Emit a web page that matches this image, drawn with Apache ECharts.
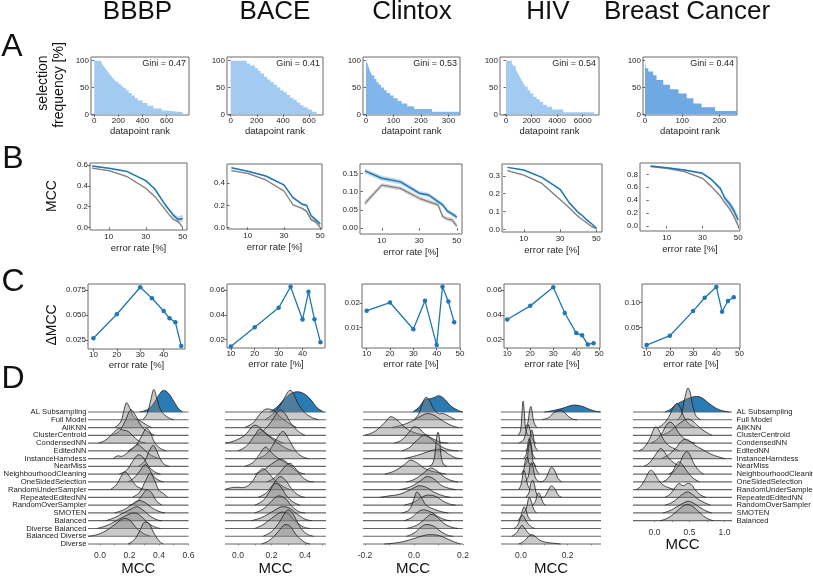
<!DOCTYPE html>
<html><head><meta charset="utf-8">
<script src="https://cdn.jsdelivr.net/npm/echarts@6/dist/echarts.min.js"></script>
<style>html,body{margin:0;padding:0;background:#fff}#c{width:813px;height:576px}</style>
</head><body><div id="c"></div>
<script>
const FONT = "'Liberation Sans', Arial, Helvetica, sans-serif";
const datasets = ['BBBP', 'BACE', 'Clintox', 'HIV', 'Breast Cancer'];

// ---------- Row A: selection frequency vs datapoint rank (step breakpoints [rank, %]) ----------
const histBBBP = [[0,100],[55,97],[68,93],[80,89],[95,85],[108,81],[120,77],[135,73],[150,69],[165,65],[180,61],[200,57],[220,53],[240,49],[262,45],[285,40],[310,35],[335,30],[360,26],[400,21],[440,16],[490,11],[560,7],[600,4],[733,4]];
const histBACE = [[0,100],[123,95],[148,91],[186,86],[210,81],[230,76],[255,70],[280,65],[305,60],[330,55],[355,50],[380,45],[405,41],[430,36],[455,31],[480,27],[506,22],[532,17],[557,13],[590,9],[621,5],[659,5]];
const histClintox = [[0,100],[5,95],[10,88],[15,80],[22,73],[30,66],[38,60],[46,55],[55,50],[65,45],[75,40],[88,35],[100,30],[115,25],[130,20],[150,15],[175,10],[240,5],[342,5]];
const histHIV = [[0,100],[450,95],[600,90],[760,84],[900,78],[1050,71],[1200,65],[1350,58],[1500,52],[1700,45],[1900,39],[2150,33],[2400,28],[2650,23],[2900,18],[3200,14],[3600,9],[4490,4],[6910,4]];
const histBreast = [[0,100],[2,86],[9,80],[22,73],[31,64],[49,55],[67,47],[90,39],[112,30],[130,20],[152,13],[188,6],[248,6]];
const giniValues = ['0.47', '0.41', '0.53', '0.54', '0.44'];
const rankTicksA = [[0,200,400,600],[0,200,400,600],[0,100,200,300],[0,2000,4000,6000],[0,100,200]];
const freqTicksA = [0, 50, 100];

// ---------- Row B: MCC vs error rate ----------
const errB = [1, 10, 20, 30, 35, 40, 42.5, 45, 47.5, 50];
const mccAL_BBBP = [0.59,0.57,0.537,0.45,0.367,0.23,0.172,0.115,0.075,0.085];
const mccFull_BBBP = [0.57,0.546,0.488,0.376,0.295,0.183,0.125,0.075,0.055,0.0];
const sdAL_BBBP = [0.006,0.006,0.007,0.008,0.01,0.012,0.015,0.02,0.028,0.035];
const sdFull_BBBP = [0.005,0.005,0.005,0.006,0.007,0.008,0.009,0.01,0.012,0.012];
const mccAL_BACE = [0.54,0.51,0.466,0.385,0.27,0.21,0.20,0.105,0.07,0.03];
const mccFull_BACE = [0.515,0.49,0.43,0.33,0.205,0.172,0.145,0.07,0.05,0.0];
const sdAL_BACE = [0.006,0.006,0.007,0.008,0.01,0.01,0.012,0.014,0.015,0.018];
const sdFull_BACE = [0.005,0.005,0.006,0.007,0.01,0.01,0.012,0.012,0.014,0.015];
const mccAL_Clintox = [0.157,0.137,0.127,0.096,0.091,0.073,0.064,0.047,0.039,0.030];
const mccFull_Clintox = [0.068,0.118,0.109,0.082,0.073,0.064,0.032,0.025,0.023,0.006];
const sdAL_Clintox = [0.007,0.007,0.007,0.006,0.006,0.006,0.006,0.006,0.006,0.007];
const sdFull_Clintox = [0.008,0.006,0.006,0.006,0.006,0.006,0.006,0.006,0.007,0.008];
const mccAL_HIV = [0.348,0.333,0.292,0.225,0.15,0.095,0.075,0.05,0.03,0.006];
const mccFull_HIV = [0.33,0.305,0.258,0.168,0.121,0.072,0.052,0.034,0.015,0.004];
const sdAL_HIV = [0.003,0.003,0.003,0.004,0.004,0.004,0.004,0.004,0.004,0.004];
const sdFull_HIV = [0.003,0.003,0.003,0.003,0.003,0.003,0.003,0.003,0.003,0.003];
const mccAL_Breast = [0.929,0.90,0.867,0.816,0.72,0.58,0.43,0.35,0.24,0.093];
const mccFull_Breast = [0.918,0.893,0.84,0.738,0.61,0.464,0.36,0.274,0.155,0.0];
const sdAL_Breast = [0.01,0.01,0.012,0.015,0.02,0.03,0.04,0.05,0.06,0.07];
const sdFull_Breast = [0.008,0.008,0.01,0.012,0.015,0.02,0.02,0.025,0.025,0.03];
const mccTicksB = [[0,0.2,0.4,0.6],[0,0.2,0.4],[0,0.05,0.1,0.15],[0,0.1,0.2,0.3],[0,0.2,0.4,0.6,0.8]];
const errTicksB = [10, 30, 50];

// ---------- Row C: delta MCC vs error rate ----------
const errC = [10, 20, 30, 35, 40, 42.5, 45, 47.5];
const dMCC_BBBP = [0.0267,0.0507,0.0777,0.0667,0.054,0.0467,0.0427,0.019];
const dMCC_BACE = [0.0146,0.030,0.0456,0.0626,0.0362,0.0585,0.0364,0.018];
const dMCC_Clintox = [0.0169,0.0203,0.0092,0.021,0.0026,0.0269,0.0207,0.0121];
const dMCC_HIV = [0.0362,0.0472,0.0621,0.0415,0.0253,0.0235,0.0162,0.0172];
const dMCC_Breast = [0.014,0.033,0.083,0.110,0.132,0.0816,0.1034,0.111];
const dTicksC = [[0.025,0.05,0.075],[0.02,0.04,0.06],[0.01,0.02],[0.02,0.04,0.06],[0.05,0.1]];
const errTicksC = [10, 20, 30, 40, 50];

// ---------- Row D: MCC distributions (ridgeline; knots [mcc, density in row units, ...]) ----------
const methodNames = ['AL Subsampling','Full Model','AllKNN','ClusterCentroid','CondensedNN','EditedNN','InstanceHarndess','NearMiss','NeighbourhoodCleaning','OneSidedSelection','RandomUnderSampler','RepeatedEditedNN','RandomOverSampler','SMOTEN','Balanced','Diverse Balanced','Balanced Diverse','Diverse'];
const ridgesBBBP = [
[0.27,0, 0.32,0.3, 0.36,1.0, 0.40,2.2, 0.43,2.8, 0.46,2.5, 0.50,1.4, 0.53,0.5, 0.56,0],
[0.29,0, 0.32,0.8, 0.345,2.6, 0.365,3.9, 0.385,2.8, 0.41,1.3, 0.44,0.6, 0.47,0.2, 0.50,0],
[0.10,0, 0.14,0.7, 0.165,2.4, 0.18,3.2, 0.20,2.6, 0.23,1.3, 0.27,0.9, 0.31,0.4, 0.35,0],
[0.08,0, 0.13,0.5, 0.17,1.8, 0.21,3.3, 0.24,2.6, 0.28,1.2, 0.32,0.5, 0.37,0],
[-0.01,0, 0.04,0.4, 0.09,1.3, 0.13,1.9, 0.15,1.7, 0.19,1.5, 0.23,0.8, 0.27,0.2, 0.31,0],
[0.19,0, 0.24,0.6, 0.28,1.8, 0.315,2.9, 0.34,2.4, 0.37,1.1, 0.41,0.3, 0.45,0],
[0.09,0, 0.12,0.35, 0.15,0.3, 0.19,0.8, 0.23,1.5, 0.255,1.8, 0.28,1.5, 0.32,0.8, 0.36,0.3, 0.40,0],
[0.26,0, 0.30,0.6, 0.335,2.0, 0.36,2.7, 0.38,2.2, 0.41,0.9, 0.44,0.2, 0.47,0],
[0.13,0, 0.18,0.5, 0.22,1.6, 0.26,2.5, 0.29,2.2, 0.33,1.0, 0.37,0.3, 0.41,0],
[0.19,0, 0.23,0.5, 0.27,1.4, 0.305,2.2, 0.33,1.8, 0.36,0.8, 0.40,0.2, 0.43,0],
[0.07,0, 0.11,0.6, 0.15,1.9, 0.17,2.3, 0.20,1.7, 0.24,0.6, 0.28,0.15, 0.32,0],
[0.22,0, 0.27,0.7, 0.31,2.2, 0.34,3.1, 0.37,2.2, 0.40,0.9, 0.43,0.5, 0.46,0],
[0.20,0, 0.25,0.4, 0.29,1.4, 0.32,2.0, 0.35,1.6, 0.38,0.6, 0.42,0],
[0.10,0, 0.16,0.4, 0.21,1.0, 0.26,1.6, 0.30,1.4, 0.35,0.7, 0.40,0.2, 0.44,0],
[0.04,0, 0.10,0.4, 0.16,1.0, 0.21,1.5, 0.25,1.8, 0.29,1.4, 0.34,0.6, 0.39,0.1, 0.42,0],
[-0.02,0, 0.05,0.4, 0.11,1.0, 0.17,1.6, 0.23,2.0, 0.27,1.7, 0.32,0.8, 0.37,0.2, 0.41,0],
[-0.08,0, -0.02,0.2, 0.04,0.7, 0.10,1.5, 0.16,2.3, 0.20,2.1, 0.25,1.0, 0.30,0.3, 0.34,0],
[0.19,0, 0.23,0.5, 0.27,1.7, 0.30,2.8, 0.33,2.7, 0.36,1.6, 0.40,0.4, 0.43,0]
];
const ridgesBACE = [
[0.19,0, 0.23,0.6, 0.27,1.5, 0.31,2.3, 0.35,2.6, 0.39,2.4, 0.43,1.7, 0.47,0.6, 0.51,0],
[0.16,0, 0.20,0.6, 0.25,1.8, 0.29,3.3, 0.31,3.8, 0.33,3.4, 0.36,2.0, 0.40,0.9, 0.44,0.3, 0.48,0],
[0.04,0, 0.09,0.6, 0.13,1.7, 0.17,2.4, 0.21,2.2, 0.25,1.4, 0.30,0.6, 0.35,0],
[0.10,0, 0.15,0.6, 0.20,1.8, 0.25,3.3, 0.28,2.8, 0.32,1.4, 0.36,0.5, 0.40,0],
[-0.075,0, -0.02,0.3, 0.04,1.0, 0.08,2.0, 0.10,2.3, 0.13,2.0, 0.17,1.2, 0.22,0.5, 0.27,0],
[0.0,0, 0.05,0.6, 0.10,2.0, 0.13,2.8, 0.16,2.3, 0.20,1.6, 0.25,0.8, 0.30,0.2, 0.33,0],
[0.12,0, 0.17,0.6, 0.21,1.8, 0.25,3.2, 0.27,3.5, 0.30,2.6, 0.34,1.1, 0.38,0.3, 0.42,0],
[0.04,0, 0.09,0.5, 0.13,1.6, 0.165,2.5, 0.19,2.0, 0.23,1.2, 0.28,0.5, 0.33,0],
[0.10,0, 0.15,0.5, 0.20,1.3, 0.25,1.9, 0.28,1.7, 0.32,0.9, 0.36,0.3, 0.40,0],
[0.17,0, 0.21,0.4, 0.25,1.2, 0.29,2.2, 0.31,2.4, 0.34,1.8, 0.38,0.7, 0.42,0.1, 0.45,0],
[-0.08,0, -0.04,0.25, 0.0,0.3, 0.04,0.3, 0.08,0.9, 0.12,2.2, 0.15,2.7, 0.18,2.2, 0.22,1.2, 0.27,0.4, 0.31,0],
[0.12,0, 0.17,0.6, 0.21,1.7, 0.25,2.7, 0.28,2.3, 0.32,1.1, 0.36,0.3, 0.40,0],
[0.10,0, 0.15,0.6, 0.19,1.8, 0.22,2.8, 0.25,2.5, 0.29,1.2, 0.33,0.4, 0.37,0],
[0.10,0, 0.15,0.5, 0.20,1.5, 0.24,2.2, 0.28,1.9, 0.32,0.9, 0.36,0.2, 0.40,0],
[0.08,0, 0.14,0.4, 0.20,1.1, 0.26,1.8, 0.30,1.7, 0.35,0.9, 0.40,0.2, 0.44,0],
[0.10,0, 0.15,0.5, 0.20,1.3, 0.26,2.1, 0.30,1.9, 0.34,1.0, 0.39,0.2, 0.43,0],
[0.15,0, 0.20,0.6, 0.24,1.6, 0.28,3.0, 0.30,3.4, 0.33,2.8, 0.37,1.2, 0.41,0.3, 0.45,0],
[0.14,0, 0.19,0.5, 0.24,1.6, 0.28,2.5, 0.31,2.3, 0.35,1.1, 0.40,0.2, 0.43,0]
];
const ridgesClintox = [
[-0.005,0, 0.02,0.6, 0.045,1.6, 0.065,1.7, 0.085,1.9, 0.10,2.1, 0.12,1.8, 0.15,0.8, 0.18,0.2, 0.20,0],
[0.0,0, 0.02,0.8, 0.04,2.5, 0.05,2.9, 0.065,2.4, 0.08,1.4, 0.10,0.8, 0.12,0.8, 0.14,0.5, 0.17,0],
[-0.09,0, -0.05,0.3, -0.01,0.8, 0.03,1.5, 0.055,1.8, 0.08,1.6, 0.11,1.0, 0.15,0.3, 0.18,0],
[-0.20,0, -0.16,0.5, -0.12,1.6, -0.095,2.4, -0.07,2.0, -0.04,1.1, -0.01,0.5, 0.03,0.1, 0.06,0],
[-0.08,0, -0.05,0.4, -0.02,1.4, 0.0,2.1, 0.02,1.9, 0.05,1.0, 0.08,0.5, 0.11,0.1, 0.14,0],
[-0.05,0, -0.02,0.4, 0.01,1.3, 0.04,2.0, 0.06,1.8, 0.09,1.0, 0.12,0.4, 0.15,0.1, 0.18,0],
[-0.04,0, 0.0,0.3, 0.04,0.7, 0.08,1.1, 0.11,1.2, 0.14,0.6, 0.17,0.1, 0.19,0],
[0.06,0, 0.075,0.3, 0.085,1.5, 0.093,3.8, 0.098,4.4, 0.104,3.6, 0.11,1.5, 0.12,0.3, 0.135,0],
[-0.12,0, -0.08,0.4, -0.04,1.2, -0.015,1.8, 0.01,1.5, 0.04,0.8, 0.07,0.4, 0.10,0.2, 0.13,0],
[-0.03,0, 0.0,0.3, 0.03,0.9, 0.068,1.8, 0.09,1.5, 0.12,0.7, 0.15,0.2, 0.18,0],
[-0.06,0, -0.02,0.3, 0.02,1.0, 0.054,1.7, 0.08,1.4, 0.11,0.6, 0.14,0.2, 0.17,0],
[-0.14,0, -0.10,0.2, -0.06,0.4, -0.02,0.9, 0.02,1.5, 0.05,1.3, 0.08,0.7, 0.12,0.2, 0.15,0],
[-0.04,0, 0.0,0.4, 0.03,1.0, 0.06,1.3, 0.09,1.1, 0.12,0.5, 0.15,0.1, 0.17,0],
[-0.05,0, -0.02,0.4, 0.0,1.8, 0.012,2.7, 0.03,2.0, 0.05,1.0, 0.08,0.5, 0.12,0.1, 0.14,0],
[-0.04,0, -0.01,0.4, 0.02,1.2, 0.04,1.4, 0.07,1.1, 0.10,0.5, 0.13,0.1, 0.15,0],
[-0.03,0, 0.01,0.4, 0.04,1.1, 0.068,1.8, 0.09,1.6, 0.12,0.7, 0.15,0.2, 0.18,0],
[-0.03,0, 0.0,0.4, 0.03,1.2, 0.05,1.5, 0.08,1.3, 0.11,0.6, 0.14,0.1, 0.16,0],
[-0.12,0, -0.06,0.2, -0.01,0.6, 0.03,1.0, 0.06,1.2, 0.10,1.1, 0.14,0.6, 0.17,0.2, 0.19,0]
];
const ridgesHIV = [
[0.10,0, 0.14,0.2, 0.18,0.5, 0.21,0.8, 0.23,0.9, 0.26,0.75, 0.29,0.4, 0.32,0.1, 0.34,0],
[0.09,0, 0.12,0.3, 0.14,0.9, 0.155,1.1, 0.17,1.2, 0.185,1.0, 0.20,0.5, 0.22,0.1, 0.24,0],
[0.015,0, 0.028,0.5, 0.036,2.0, 0.042,2.7, 0.048,2.0, 0.056,0.6, 0.068,0],
[-0.012,0, -0.002,0.6, 0.004,2.8, 0.009,4.4, 0.014,3.0, 0.02,0.8, 0.03,0],
[-0.01,0, 0.01,0.4, 0.022,1.5, 0.03,2.4, 0.038,1.8, 0.046,0.8, 0.056,0.2, 0.065,0],
[0.02,0, 0.032,0.6, 0.04,2.0, 0.046,2.7, 0.052,2.1, 0.06,0.6, 0.072,0],
[0.01,0, 0.022,0.5, 0.03,2.0, 0.036,2.6, 0.042,2.0, 0.05,0.6, 0.062,0],
[0.01,0, 0.024,0.5, 0.032,2.3, 0.038,3.2, 0.044,2.4, 0.052,0.6, 0.064,0],
[0.0,0, 0.012,0.6, 0.02,2.0, 0.028,2.2, 0.036,1.3, 0.046,1.2, 0.055,1.4, 0.065,0.6, 0.078,0],
[0.015,0, 0.03,0.6, 0.04,2.2, 0.046,2.5, 0.054,1.5, 0.064,0.4, 0.08,0.05, 0.10,0.2, 0.115,1.0, 0.13,1.9, 0.145,1.4, 0.16,0.4, 0.175,0],
[-0.01,0, 0.0,0.6, 0.008,2.0, 0.013,2.5, 0.02,1.8, 0.03,0.5, 0.042,0],
[0.02,0, 0.034,0.6, 0.042,1.8, 0.05,2.2, 0.058,1.6, 0.068,0.4, 0.085,0.05, 0.10,0.1, 0.115,0.8, 0.13,1.5, 0.145,1.1, 0.16,0.3, 0.175,0],
[0.05,0, 0.062,0.5, 0.07,1.4, 0.077,1.6, 0.085,1.1, 0.095,0.3, 0.105,0],
[0.01,0, 0.022,0.5, 0.03,1.6, 0.036,2.0, 0.044,1.5, 0.054,0.5, 0.066,0],
[-0.015,0, -0.002,0.5, 0.008,1.5, 0.014,1.8, 0.022,1.3, 0.032,0.4, 0.045,0],
[-0.03,0, -0.015,0.4, -0.003,1.3, 0.006,1.7, 0.016,1.3, 0.03,0.6, 0.045,0.2, 0.06,0],
[-0.04,0, -0.02,0.4, -0.005,1.1, 0.004,1.4, 0.014,1.1, 0.028,0.5, 0.045,0.1, 0.06,0],
[-0.01,0, 0.01,0.3, 0.03,0.9, 0.045,1.2, 0.06,1.0, 0.08,0.5, 0.11,0.2, 0.14,0.1, 0.17,0]
];
const ridgesBreast = [
[0.15,0, 0.22,0.3, 0.30,0.9, 0.40,1.4, 0.50,1.8, 0.60,2.0, 0.68,1.8, 0.78,1.1, 0.90,0.4, 1.00,0.1, 1.07,0],
[0.33,0, 0.38,0.6, 0.42,2.2, 0.46,3.8, 0.48,4.1, 0.51,3.5, 0.55,1.6, 0.60,0.4, 0.66,0],
[0.05,0, 0.12,0.4, 0.20,1.3, 0.27,2.6, 0.32,3.1, 0.37,2.5, 0.43,1.2, 0.50,0.4, 0.58,0],
[0.10,0, 0.20,0.4, 0.30,1.1, 0.40,1.8, 0.47,2.1, 0.55,1.8, 0.62,1.2, 0.72,0.5, 0.82,0],
[-0.05,0, 0.03,0.4, 0.10,1.2, 0.17,2.3, 0.22,2.7, 0.28,2.3, 0.34,1.4, 0.42,0.6, 0.50,0.2, 0.58,0],
[-0.22,0, -0.15,0.4, -0.07,1.5, -0.01,2.8, 0.02,3.1, 0.06,2.7, 0.12,1.6, 0.20,0.7, 0.28,0.3, 0.36,0],
[0.10,0, 0.20,0.5, 0.30,1.3, 0.38,2.2, 0.44,2.5, 0.50,2.3, 0.58,1.7, 0.68,1.2, 0.80,0.6, 0.92,0.2, 1.00,0],
[-0.15,0, -0.08,0.4, 0.0,1.3, 0.06,2.1, 0.09,2.3, 0.13,2.0, 0.19,1.2, 0.27,0.5, 0.35,0.1, 0.42,0],
[0.20,0, 0.28,0.4, 0.35,1.2, 0.41,2.4, 0.46,2.9, 0.50,2.6, 0.56,1.4, 0.63,0.5, 0.70,0],
[0.12,0, 0.20,0.5, 0.27,1.5, 0.32,2.4, 0.35,2.6, 0.40,2.2, 0.47,1.3, 0.55,0.5, 0.64,0],
[-0.26,0, -0.20,0.4, -0.13,1.4, -0.08,2.3, -0.05,2.5, -0.01,2.2, 0.06,1.2, 0.14,0.5, 0.22,0.2, 0.30,0],
[0.15,0, 0.22,0.4, 0.29,1.2, 0.35,1.8, 0.41,1.5, 0.47,1.8, 0.52,1.7, 0.58,1.0, 0.66,0.3, 0.74,0],
[0.15,0, 0.24,0.3, 0.32,0.8, 0.40,1.4, 0.47,1.7, 0.54,1.4, 0.62,0.8, 0.72,0.3, 0.80,0],
[0.12,0, 0.22,0.3, 0.32,0.8, 0.42,1.3, 0.48,1.5, 0.55,1.3, 0.65,0.7, 0.75,0.2, 0.82,0],
[0.08,0, 0.18,0.3, 0.28,0.9, 0.38,1.7, 0.47,2.1, 0.55,1.8, 0.65,1.0, 0.75,0.3, 0.84,0]
];
const mccTicksD = [[0,0.1,0.2,0.3,0.4,0.5,0.6],[0,0.1,0.2,0.3,0.4,0.5],[-0.2,-0.1,0,0.1,0.2],[0,0.1,0.2,0.3],[0,0.25,0.5,0.75,1]];
const mccLabelsD = [[0,0.2,0.4,0.6],[0,0.2,0.4],[-0.2,0,0.2],[0,0.2],[0,0.5,1]];

// ---------- assemble ----------
const hists = [histBBBP, histBACE, histClintox, histHIV, histBreast];
const mccAL = [mccAL_BBBP, mccAL_BACE, mccAL_Clintox, mccAL_HIV, mccAL_Breast];
const mccFull = [mccFull_BBBP, mccFull_BACE, mccFull_Clintox, mccFull_HIV, mccFull_Breast];
const sdAL = [sdAL_BBBP, sdAL_BACE, sdAL_Clintox, sdAL_HIV, sdAL_Breast];
const sdFull = [sdFull_BBBP, sdFull_BACE, sdFull_Clintox, sdFull_HIV, sdFull_Breast];
const dMCC = [dMCC_BBBP, dMCC_BACE, dMCC_Clintox, dMCC_HIV, dMCC_Breast];
const ridges = [ridgesBBBP, ridgesBACE, ridgesClintox, ridgesHIV, ridgesBreast];

const layA = [
 {left:91,top:57,width:98,height:58,xmin:-27,xmax:785,color:'#a3cbf1'},
 {left:227,top:57,width:96,height:58,xmin:-28,xmax:707,color:'#a3cbf1'},
 {left:363,top:57,width:97,height:58,xmin:-11,xmax:342,color:'#80b6ea'},
 {left:500,top:57,width:99,height:58,xmin:-470,xmax:7277,color:'#a3cbf1'},
 {left:643,top:57,width:94,height:58,xmin:-5.4,xmax:247,color:'#6fa9e4'}];
const layB = [
 {left:90,top:163,width:97,height:67,xmin:-0.16,xmax:52.3,ymin:-0.026,ymax:0.62,dec:1},
 {left:227,top:164,width:95,height:65,xmin:-1.4,xmax:51,ymin:-0.015,ymax:0.575,dec:1},
 {left:360,top:164,width:102,height:70,xmin:-1.6,xmax:52.8,ymin:-0.016,ymax:0.176,dec:2},
 {left:502,top:164,width:100,height:68,xmin:-2,xmax:53.1,ymin:-0.015,ymax:0.367,dec:1},
 {left:640,top:163,width:100,height:68,xmin:-4.9,xmax:51,ymin:-0.077,ymax:0.975,dec:1}];
const layC = [
 {left:88,top:284,width:97,height:65,xmin:7.7,xmax:49.1,ymin:0.016,ymax:0.081,dec:3},
 {left:227,top:284,width:98,height:64,xmin:8.4,xmax:49.4,ymin:0.0133,ymax:0.0648,dec:2},
 {left:362,top:284,width:98,height:64,xmin:8,xmax:50,ymin:0.0014,ymax:0.028,dec:2},
 {left:504,top:284,width:96,height:64,xmin:8.6,xmax:50.3,ymin:0.0133,ymax:0.0648,dec:2},
 {left:642,top:284,width:98,height:64,xmin:8,xmax:50.2,ymin:0.008,ymax:0.138,dec:2}];
const layD = [
 {left:88,width:100.5,xmin:-0.081,xmax:0.6},
 {left:225,width:101,xmin:-0.0776,xmax:0.525},
 {left:363,width:100,xmin:-0.208,xmax:0.2},
 {left:501,width:100,xmin:-0.0858,xmax:0.343},
 {left:633,width:99,xmin:-0.307,xmax:1.107}];
const ROWPX = 7.765, DTOP = 380;

const TXT = '#262626';
const grids = [], xAxes = [], yAxes = [], series = [], graphics = [];
function pushY(ax) { yAxes.push(ax); return yAxes.length - 1; }

function mkGrid(o) {
  return Object.assign({containLabel:false, outerBoundsMode:'none'}, o);
}
function tickAxis(o) {
  return {
    type:'value', gridIndex:o.g, min:o.min, max:o.max, position:o.position,
    splitLine:{show:false}, axisLine:{show:false},
    axisTick:{show:true, length:2.5, customValues:o.ticks, lineStyle:{color:'#444', width:0.8}},
    axisLabel:{customValues:o.ticks, fontSize:8, color:TXT, margin:o.margin == null ? 2 : o.margin,
      formatter:o.fmt || (v => String(v)), showMinLabel:true, showMaxLabel:true},
    name:o.name, nameLocation:'middle', nameGap:o.nameGap, nameTextStyle:{fontSize:9.5, color:TXT}
  };
}
function fixed(d) { return v => Number(v).toFixed(d); }

for (let p = 0; p < 5; p++) {
  // ---- A
  const a = layA[p], gA = grids.length;
  grids.push(mkGrid({left:a.left, top:a.top, width:a.width, height:a.height, show:true, borderColor:'#6a6a6a', borderWidth:1}));
  xAxes.push(tickAxis({g:gA, min:a.xmin, max:a.xmax, ticks:rankTicksA[p], name:'datapoint rank', nameGap:11, margin:1.5}));
  const yA = pushY(tickAxis({g:gA, min:-1.3, max:107, ticks:freqTicksA, margin:2}));
  series.push({type:'line', xAxisIndex:gA, yAxisIndex:yA, data:hists[p], step:'end', symbol:'none', silent:true,
    lineStyle:{width:0, opacity:0}, areaStyle:{color:a.color, opacity:1}});
  graphics.push({type:'text', x:a.left + a.width - 3, y:a.top + 6.5, silent:true,
    style:{text:'Gini = ' + giniValues[p], fontSize:9, fontFamily:FONT, fill:TXT, align:'right', textAlign:'right', verticalAlign:'middle', textVerticalAlign:'middle'}});

  // ---- B
  const b = layB[p], gB = grids.length;
  grids.push(mkGrid({left:b.left, top:b.top, width:b.width, height:b.height, show:true, borderColor:'#6a6a6a', borderWidth:1}));
  xAxes.push(tickAxis({g:gB, min:b.xmin, max:b.xmax, ticks:errTicksB, name:'error rate [%]', nameGap:13.5, margin:3}));
  const yB = pushY(tickAxis({g:gB, min:b.ymin, max:b.ymax, ticks:mccTicksB[p], fmt:fixed(b.dec), margin:2}));
  const bandSeries = (vals, sd, color) => ({
    type:'custom', xAxisIndex:gB, yAxisIndex:yB, data:[[errB[0], vals[0]]], silent:true, clip:true,
    renderItem:(params, api) => {
      const pts = [];
      for (let i = 0; i < errB.length; i++) pts.push(api.coord([errB[i], vals[i] + sd[i]]));
      for (let i = errB.length - 1; i >= 0; i--) pts.push(api.coord([errB[i], vals[i] - sd[i]]));
      return {type:'polygon', shape:{points:pts}, style:{fill:color, stroke:null}};
    }
  });
  series.push(bandSeries(mccFull[p], sdFull[p], 'rgba(127,127,127,0.28)'));
  series.push(bandSeries(mccAL[p], sdAL[p], 'rgba(31,119,180,0.28)'));
  series.push({type:'line', xAxisIndex:gB, yAxisIndex:yB, data:errB.map((x,i)=>[x, mccFull[p][i]]), symbol:'none', silent:true,
    lineStyle:{color:'#7f7f7f', width:1.3}});
  series.push({type:'line', xAxisIndex:gB, yAxisIndex:yB, data:errB.map((x,i)=>[x, mccAL[p][i]]), symbol:'none', silent:true,
    lineStyle:{color:'#1f77b4', width:1.5}});

  // ---- C
  const c = layC[p], gC = grids.length;
  grids.push(mkGrid({left:c.left, top:c.top, width:c.width, height:c.height, show:true, borderColor:'#6a6a6a', borderWidth:1}));
  xAxes.push(tickAxis({g:gC, min:c.xmin, max:c.xmax, ticks:errTicksC, name:'error rate [%]', nameGap:11.5, margin:1.5}));
  const yC = pushY(tickAxis({g:gC, min:c.ymin, max:c.ymax, ticks:dTicksC[p], fmt:fixed(c.dec), margin:2}));
  series.push({type:'line', xAxisIndex:gC, yAxisIndex:yC, data:errC.map((x,i)=>[x, dMCC[p][i]]), symbol:'circle', symbolSize:4.5, silent:true,
    lineStyle:{color:'#1f77b4', width:1.3}, itemStyle:{color:'#1f77b4'}});

  // ---- D
  const d = layD[p], gD = grids.length, R = ridges[p], n = R.length;
  const bottom = DTOP + 32 + (n - 1) * ROWPX;
  const ymax = (bottom - DTOP) / ROWPX;
  grids.push(mkGrid({left:d.left, top:DTOP, width:d.width, height:bottom - DTOP, show:false}));
  xAxes.push({type:'value', gridIndex:gD, min:d.xmin, max:d.xmax, offset:5,
    splitLine:{show:false}, axisLine:{show:false},
    axisTick:{show:true, length:1.5, customValues:mccTicksD[p], lineStyle:{color:'#9a9a9a', width:1}},
    axisLabel:{customValues:mccLabelsD[p], fontSize:8.5, color:'#333', margin:2, formatter:fixed(1), showMinLabel:true, showMaxLabel:true},
    name:'MCC', nameLocation:'middle', nameGap:10.5, nameTextStyle:{fontSize:15, color:'#111'}});
  const rowVals = R.map((r, i) => i);
  const showNames = (p === 0 || p === 4);
  const rowAxis = (vals) => ({type:'value', gridIndex:gD, min:0, max:ymax, position: p === 4 ? 'right' : 'left', offset:0,
    splitLine:{show:false}, axisLine:{show:false}, axisTick:{show:false},
    axisLabel:{show:showNames, customValues:vals, fontSize:7.7, color:'#222', margin: p === 4 ? 4.5 : 1.5,
      showMinLabel:true, showMaxLabel:true, hideOverlap:false,
      formatter: v => methodNames[n - 1 - Math.round(v)] || ''}});
  // two label axes (alternate rows) so that neighbouring row names never collide
  const yD = pushY(rowAxis(rowVals.filter(v => v % 2 === 0)));
  pushY(rowAxis(rowVals.filter(v => v % 2 === 1)));
  // baselines
  series.push({type:'custom', xAxisIndex:gD, yAxisIndex:yD, silent:true, data:rowVals.map(i => [d.xmin, i]),
    renderItem:(params, api) => {
      const i = params.dataIndex, base = n - 1 - i;
      const p0 = api.coord([d.xmin, base]), p1 = api.coord([d.xmax, base]);
      return {type:'line', shape:{x1:p0[0], y1:p0[1], x2:p1[0], y2:p1[1]}, style:{stroke:'#666', lineWidth:1.2}};
    }});
  // ridges
  series.push({type:'custom', xAxisIndex:gD, yAxisIndex:yD, silent:true, data:rowVals.map(i => [R[i][0], n - 1 - i]),
    renderItem:(params, api) => {
      const i = params.dataIndex, base = n - 1 - i, k = R[i];
      const pts = [];
      for (let j = 0; j < k.length; j += 2) pts.push(api.coord([k[j], base + k[j + 1]]));
      const xs = pts.map(q => q[0]), ys = pts.map(q => q[1]);
      const cons = [[Math.min(...xs), Math.min(...ys)], [Math.max(...xs), Math.max(...ys)]];
      const fill = i === 0 ? 'rgba(31,115,176,0.95)' : 'rgba(128,128,128,0.42)';
      return {type:'group', children:[
        {type:'polygon', shape:{points:pts, smooth:0.4, smoothConstraint:cons}, style:{fill:fill, stroke:null}},
        {type:'polyline', shape:{points:pts, smooth:0.4, smoothConstraint:cons}, style:{fill:null, stroke:'#1e1e1e', lineWidth:0.8}}
      ]};
    }});
}

// ---------- free text: titles, panel letters, row y-labels ----------
const titleX = [137.5, 275, 412, 548, 687];
function addText(x, y, t, size, rot) {
  graphics.push({type:'text', x:x, y:y, rotation:rot || 0, silent:true,
    style:{text:t, fontSize:size, fontFamily:FONT, fill:'#111', align:'center', textAlign:'center', verticalAlign:'middle', textVerticalAlign:'middle'}});
}
datasets.forEach((t, i) => addText(titleX[i], 12, t, 26));
addText(12, 47, 'A', 32); addText(13, 159, 'B', 32); addText(13, 282, 'C', 32); addText(13, 379, 'D', 32);
addText(43.5, 83, 'selection', 14, Math.PI / 2);
addText(59.5, 85, 'frequency [%]', 14, Math.PI / 2);
addText(52, 196, 'MCC', 14, Math.PI / 2);
addText(52.5, 325, 'ΔMCC', 14, Math.PI / 2);

const chart = echarts.init(document.getElementById('c'), null, {renderer:'canvas'});
chart.setOption({animation:false, backgroundColor:'#fff', textStyle:{fontFamily:FONT},
  grid:grids, xAxis:xAxes, yAxis:yAxes, series:series, graphic:graphics});
</script></body></html>
